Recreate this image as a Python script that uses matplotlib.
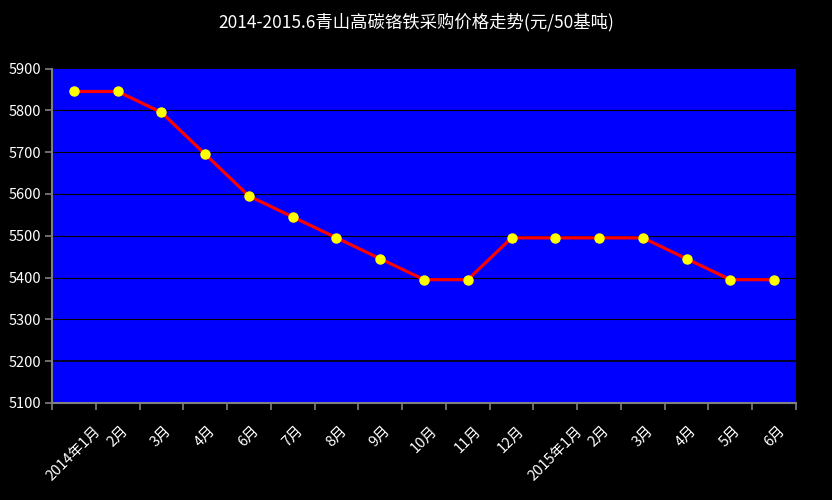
import matplotlib
matplotlib.use("Agg")
import matplotlib.pyplot as plt

plt.rcParams['font.family'] = ['Noto Sans CJK SC', 'DejaVu Sans']

categories = ["2014年1月", "2月", "3月", "4月", "6月", "7月", "8月", "9月", "10月",
              "11月", "12月", "2015年1月", "2月", "3月", "4月", "5月", "6月"]
prices = [5845, 5845, 5795, 5695, 5595, 5545, 5495, 5445, 5395,
          5395, 5495, 5495, 5495, 5495, 5445, 5395, 5395]
yticks = [5100, 5200, 5300, 5400, 5500, 5600, 5700, 5800, 5900]
title = "2014-2015.6青山高碳铬铁采购价格走势(元/50基吨)"

fig = plt.figure(figsize=(8.32, 5.0), dpi=100, facecolor='black')
ax = fig.add_axes([52/832, 1-403/500, (796-52)/832, (403-68.5)/500])
ax.set_facecolor('#0000FF')

x = list(range(len(categories)))
ax.plot(x, prices, color='#FF0000', linewidth=2.3, zorder=3)
ax.plot(x, prices, linestyle='none', marker='o', markersize=6.5,
        markerfacecolor='#FFFF00', markeredgecolor='#FFFF00', zorder=4)

ax.set_xlim(-0.5, len(categories) - 0.5)
ax.set_ylim(5100, 5900)
ax.set_yticks(yticks)
ax.set_yticklabels([str(v) for v in yticks], color='white', fontsize=10.5)

for v in yticks[1:-1]:
    ax.axhline(v, color='black', linewidth=1.2 if v == 5200 else 0.8, zorder=1)

# ticks at category boundaries, labels at centers
ax.set_xticks([i - 0.5 for i in range(len(categories) + 1)])
ax.set_xticklabels([])
ax.set_xticks(x, minor=True)
ax.set_xticklabels(categories, minor=True, rotation=45, ha='center', va='top',
                   color='white', fontsize=10.5)
ax.tick_params(axis='x', which='minor', length=0, pad=15)
ax.tick_params(axis='x', which='major', length=5, color='#808080', width=1.2)
ax.tick_params(axis='y', length=5, color='#808080', width=1.2, pad=3)

for s in ['top', 'right']:
    ax.spines[s].set_visible(False)
for s in ['left', 'bottom']:
    ax.spines[s].set_color('#808080')
    ax.spines[s].set_linewidth(1.5)

fig.text(0.5, 1 - 22/500, title, color='white', fontsize=12.5,
         ha='center', va='center')

fig.savefig('out.png', dpi=100, facecolor='black')
